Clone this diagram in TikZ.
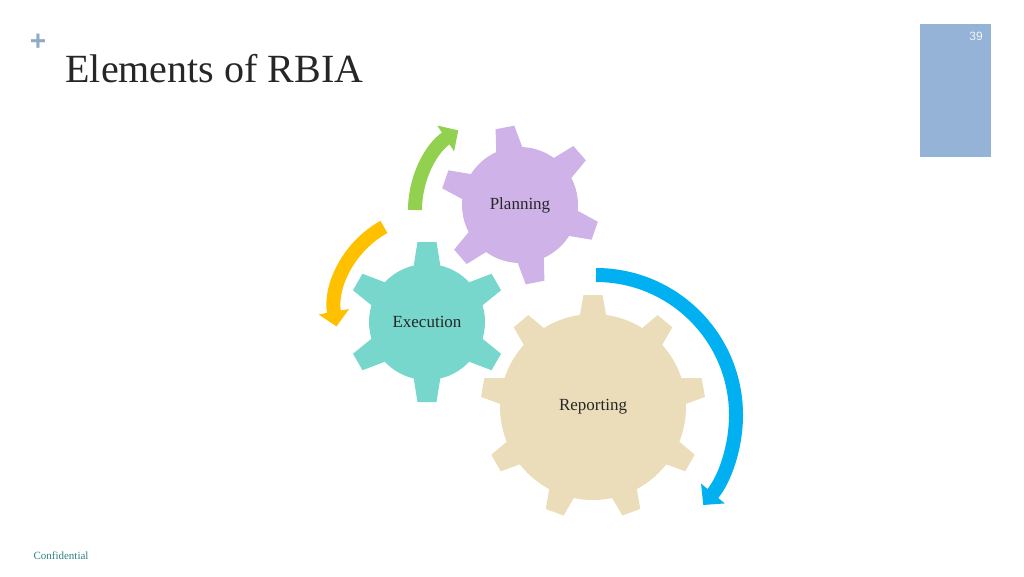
\documentclass[tikz,border=0pt]{standalone}
\usepackage{fontspec}
\setmainfont{Liberation Serif}
\newfontfamily\sansf{Liberation Sans}
\usetikzlibrary{arrows.meta,calc}
\definecolor{plan}{HTML}{CFB3E8}
\definecolor{exec}{HTML}{78D7CC}
\definecolor{rep}{HTML}{EBDDBA}
\definecolor{grn}{HTML}{92D050}
\definecolor{yel}{HTML}{FFC000}
\definecolor{blu}{HTML}{00B0F0}
\definecolor{side}{HTML}{95B3D7}
\tikzset{
  lbl/.style={font=\fontsize{17}{19}\selectfont, text=black!85},
  cyc/.style={line width=14pt, -{Triangle[width=30pt,length=15pt]}}
}
\newcommand\gearfill[8]{% color, center, r1, r2, n, start, step
  \fill[#1] (#2) circle (#3);
  \foreach \k in {1,...,#5}{
    \pgfmathsetmacro\ang{#6+(\k-1)*#7}
    \fill[#1, shift={(#2)}, rotate=\ang] (#3-6,-#8) -- (#4,-#8*0.68) -- (#4,#8*0.68) -- (#3-6,#8) -- cycle;
  }}
\begin{document}
\begin{tikzpicture}[x=1pt,y=-1pt]
\useasboundingbox (0,0) rectangle (1024,576);
\fill[side] (920,24) rectangle (991,157);
\node[font=\sansf\fontsize{12}{14}\selectfont, text=white!92!gray] (num) at (976,36) {39};
\node[font=\sansf\bfseries\fontsize{28}{30}\selectfont, text=side!80!gray] (plus) at (38,42) {+};
\node[anchor=base west, font=\fontsize{40}{44}\selectfont, text=black!85] (title) at (62,82) {Elements of RBIA};
\node[anchor=base west, font=\fontsize{11}{13}\selectfont, text=teal!60!gray] (conf) at (30,559) {Confidential};
% gears
\coordinate (cP) at (520,205);
\coordinate (cE) at (427,322);
\coordinate (cR) at (593,407);
\gearfill{rep}{cR}{93}{112}{9}{90}{40}{14}
\gearfill{exec}{cE}{58}{80}{6}{90}{60}{14}
\gearfill{plan}{cP}{58}{79}{6}{101}{60}{14}
\node[lbl] (P) at (cP) {Planning};
\node[lbl] (E) at (cE) {Execution};
\node[lbl] (R) at (cR) {Reporting};
% cycle arrows
\draw[cyc, grn] (415,210) arc[start angle=180, end angle=237, radius=95];
\draw[cyc, yel] ($(430,310)+(241:95)$) arc[start angle=241, end angle=170, radius=95];
\draw[cyc, blu] (596,275) arc[start angle=-90, end angle=40, radius=140];
\end{tikzpicture}
\end{document}
